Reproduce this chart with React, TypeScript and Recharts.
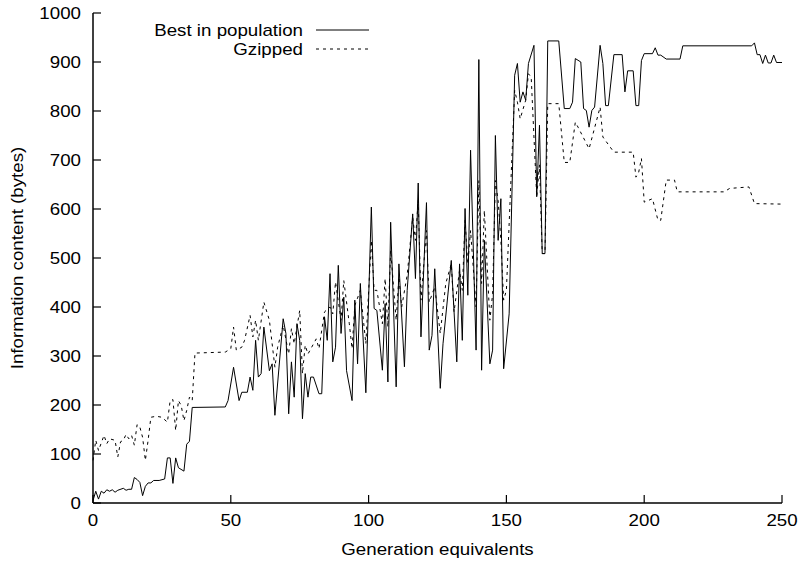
import { LineChart, Line, XAxis, YAxis, Legend } from 'recharts'

const xTicks = [0, 50, 100, 150, 200, 250]
const yTicks = [0, 100, 200, 300, 400, 500, 600, 700, 800, 900, 1000]

// best individual in the population
const bestGen = [0, 1, 2, 3, 4, 5, 6, 7, 8, 9, 11, 12, 13, 14, 15, 16, 17, 18, 19, 20, 21, 22, 24, 26, 27, 28, 29, 30, 31, 33, 34, 35, 36, 48, 49, 51, 53, 54, 56, 57, 58, 59, 60, 61, 62, 64, 65, 66, 69, 70, 71, 72, 73, 74, 75, 76, 77, 78, 79, 80, 82, 83, 84, 85, 86, 87, 88, 89, 90, 91, 92, 94, 95, 96, 97, 99, 101, 102, 103, 105, 106, 107, 108, 110, 111, 113, 114, 116, 117, 118, 119, 121, 122, 123, 124, 126, 127, 130, 132, 133, 134, 135, 136, 137, 139, 140, 141, 142, 144, 145, 146, 147, 148, 149, 151, 153, 154, 155, 156, 157, 158, 160, 161, 162, 163, 164, 165, 169, 171, 173, 174, 175, 177, 178, 179, 180, 181, 182, 184, 185, 186, 187, 189, 192, 193, 194, 196, 197, 198, 199, 200, 203, 204, 205, 206, 208, 213, 214, 239, 240, 241, 242, 243, 244, 245, 246, 247, 248, 250]
const bestBytes = [5, 24, 8, 24, 20, 27, 24, 27, 22, 26, 30, 26, 28, 28, 52, 48, 42, 15, 34, 41, 41, 46, 46, 49, 92, 92, 40, 92, 72, 65, 120, 126, 195, 196, 209, 277, 209, 226, 226, 257, 230, 332, 257, 264, 359, 270, 284, 179, 376, 346, 182, 288, 216, 366, 332, 172, 264, 216, 257, 257, 223, 223, 380, 332, 468, 288, 318, 485, 346, 420, 270, 209, 414, 284, 448, 225, 604, 397, 393, 271, 407, 247, 573, 237, 488, 278, 434, 590, 458, 653, 339, 613, 312, 342, 478, 234, 325, 495, 288, 488, 332, 601, 424, 720, 312, 905, 271, 536, 284, 312, 750, 536, 621, 274, 386, 873, 897, 818, 839, 822, 897, 934, 625, 771, 509, 509, 943, 943, 805, 805, 818, 907, 900, 805, 801, 767, 801, 808, 934, 897, 811, 811, 915, 915, 839, 882, 882, 811, 811, 903, 917, 917, 929, 914, 914, 906, 906, 933, 933, 939, 915, 915, 897, 914, 898, 898, 914, 899, 899]

// same individual after gzip
const gzipGen = [0, 1, 2, 4, 5, 6, 8, 9, 10, 11, 12, 13, 14, 15, 16, 17, 18, 19, 20, 21, 23, 25, 27, 28, 29, 30, 31, 32, 33, 34, 35, 36, 37, 48, 50, 51, 52, 54, 55, 57, 58, 59, 60, 62, 64, 66, 67, 69, 71, 72, 73, 75, 76, 77, 78, 81, 82, 84, 86, 87, 88, 90, 91, 93, 94, 95, 97, 99, 101, 102, 103, 105, 106, 107, 108, 110, 111, 112, 114, 116, 117, 118, 119, 121, 122, 124, 126, 128, 130, 131, 133, 134, 135, 136, 137, 139, 140, 141, 142, 144, 145, 146, 147, 148, 149, 150, 153, 154, 155, 157, 158, 159, 161, 162, 163, 164, 165, 169, 171, 173, 175, 176, 180, 184, 185, 189, 196, 197, 198, 199, 200, 203, 205, 206, 208, 211, 212, 229, 231, 238, 240, 250]
const gzipBytes = [87, 128, 107, 138, 121, 131, 128, 94, 125, 128, 140, 131, 138, 118, 160, 155, 134, 87, 128, 175, 177, 175, 165, 209, 211, 148, 209, 199, 168, 189, 216, 209, 306, 308, 315, 359, 312, 318, 332, 383, 339, 373, 332, 410, 373, 277, 318, 363, 304, 356, 325, 393, 264, 322, 304, 335, 315, 390, 400, 386, 451, 373, 454, 366, 315, 403, 434, 325, 536, 434, 434, 366, 458, 359, 516, 373, 461, 400, 465, 583, 536, 618, 414, 556, 410, 441, 346, 448, 488, 390, 475, 434, 577, 488, 556, 400, 658, 448, 597, 373, 427, 658, 617, 536, 414, 434, 842, 818, 784, 822, 876, 869, 625, 690, 509, 509, 815, 815, 695, 695, 777, 767, 723, 808, 747, 716, 716, 665, 675, 703, 614, 621, 577, 577, 659, 659, 635, 635, 642, 645, 611, 610]

const best = bestGen.map((g, i) => ({ gen: g, bytes: bestBytes[i] }))
const gzip = gzipGen.map((g, i) => ({ gen: g, bytes: gzipBytes[i] }))

const font = 'Liberation Sans, Arial, sans-serif'
const fs = 16
// the original lettering is stretched sideways
const sx = 1.17

function Txt({ x, y, anchor, children, rotate = 0, dy = '0' }: any) {
  const rot = rotate ? ` rotate(${rotate})` : ''
  return (
    <text
      transform={`translate(${x},${y})${rot} scale(${sx},1)`}
      textAnchor={anchor}
      dy={dy}
      fontFamily={font}
      fontSize={fs}
      fill="#000"
    >
      {children}
    </text>
  )
}

function XTick(p: any) {
  return <Txt x={p.x} y={p.y} anchor="middle" dy="0.71em">{p.payload.value}</Txt>
}

function YTick(p: any) {
  return <Txt x={p.x} y={p.y} anchor="end" dy="0.355em">{p.payload.value}</Txt>
}

function XTitle(p: any) {
  const vb = p.viewBox
  return <Txt x={vb.x + vb.width / 2} y={vb.y + vb.height - 9} anchor="middle">Generation equivalents</Txt>
}

function YTitle(p: any) {
  const vb = p.viewBox
  return <Txt x={vb.x + 23} y={vb.y + vb.height / 2} anchor="middle" rotate={-90}>Information content (bytes)</Txt>
}

function KeyBox() {
  return (
    <svg width={400} height={60} style={{ display: 'block' }}>
      <Txt x={303} y={36} anchor="end">Best in population</Txt>
      <Txt x={303} y={55} anchor="end">Gzipped</Txt>
      <line x1={316} x2={369} y1={30} y2={30} stroke="#000" strokeWidth={1} />
      <line x1={316} x2={369} y1={49} y2={49} stroke="#000" strokeWidth={1} strokeDasharray="3 4" />
    </svg>
  )
}

const frame = { stroke: '#000', strokeWidth: 1.5 }
const tickLine = { stroke: '#000', strokeWidth: 1.2 }

export default function App() {
  return (
    <div style={{ position: 'absolute', left: 0, top: 0 }}>
      <LineChart width={799} height={564} margin={{ top: 13, right: 17, bottom: 0, left: 0 }}>
        <XAxis
          dataKey="gen"
          type="number"
          domain={[0, 250]}
          ticks={xTicks}
          height={61}
          tickSize={-8}
          tickMargin={20}
          tick={<XTick />}
          axisLine={frame}
          tickLine={tickLine}
          label={<XTitle />}
        />
        <XAxis
          xAxisId="top"
          orientation="top"
          dataKey="gen"
          type="number"
          domain={[0, 250]}
          ticks={xTicks}
          height={0}
          tickSize={-8}
          tickFormatter={() => ''}
          axisLine={frame}
          tickLine={tickLine}
        />
        <YAxis
          type="number"
          domain={[0, 1000]}
          ticks={yTicks}
          width={93}
          tickSize={-8}
          tickMargin={20}
          tick={<YTick />}
          axisLine={frame}
          tickLine={tickLine}
          label={<YTitle />}
        />
        <YAxis
          yAxisId="right"
          orientation="right"
          type="number"
          domain={[0, 1000]}
          ticks={yTicks}
          width={0}
          tickSize={-8}
          tickFormatter={() => ''}
          axisLine={frame}
          tickLine={tickLine}
        />
        <Legend
          layout="horizontal"
          verticalAlign="middle"
          align="center"
          wrapperStyle={{ position: 'absolute', left: 0, top: 0, width: 400, height: 60 }}
          content={() => <KeyBox />}
        />
        <Line
          data={best}
          dataKey="bytes"
          name="Best in population"
          type="linear"
          stroke="#000"
          strokeWidth={1}
          dot={false}
          activeDot={false}
          isAnimationActive={false}
        />
        <Line
          data={gzip}
          dataKey="bytes"
          name="Gzipped"
          type="linear"
          stroke="#000"
          strokeWidth={1}
          strokeDasharray="3 4"
          dot={false}
          activeDot={false}
          isAnimationActive={false}
        />
      </LineChart>
    </div>
  )
}
